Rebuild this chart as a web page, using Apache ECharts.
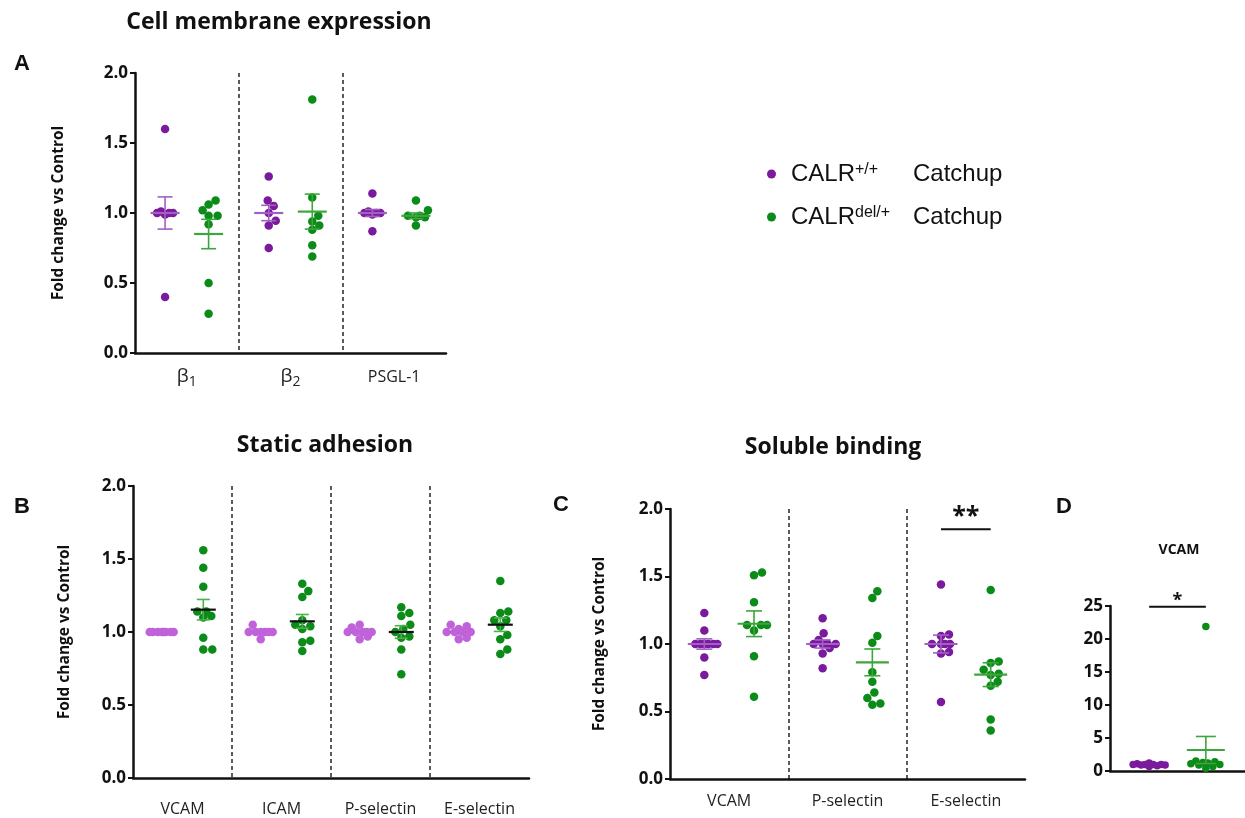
<!DOCTYPE html>
<html><head><meta charset="utf-8">
<script src="https://cdn.jsdelivr.net/npm/echarts@6/dist/echarts.min.js"></script>
<style>html,body{margin:0;padding:0;background:#fff}#c{width:1245px;height:818px}</style>
</head><body><div id="c"></div>
<script>
// ================= DATA =================
const NAME_WT = 'CALR+/+ Catchup';
const NAME_DEL = 'CALRdel/+ Catchup';

// Panel A – Cell membrane expression
const catsA = ['β₁', 'β₂', 'PSGL-1'];
const A_wt = [
  [1.60, 1.01, 1.00, 1.00, 0.99, 1.00, 0.40],
  [1.26, 1.09, 1.05, 1.00, 0.945, 0.91, 0.75],
  [1.14, 1.01, 1.00, 1.00, 0.99, 1.00, 0.87]
];
const A_del = [
  [1.09, 1.02, 1.06, 0.98, 0.98, 0.92, 0.50, 0.28],
  [1.81, 1.11, 0.98, 0.94, 0.91, 0.88, 0.77, 0.69],
  [1.09, 1.02, 0.98, 0.97, 0.98, 0.97, 0.91]
];
const A_wtMean = [1.00, 1.00, 1.00];
const A_wtSem = [0.115, 0.055, 0.025];
const A_delMean = [0.85, 1.01, 0.98];
const A_delSem = [0.105, 0.125, 0.02];

// Panel B – Static adhesion
const catsB = ['VCAM', 'ICAM', 'P-selectin', 'E-selectin'];
const B_wt = [
  [1.00, 1.00, 1.00, 1.00, 1.00, 1.00, 1.00, 1.00],
  [1.05, 1.00, 1.00, 1.00, 1.00, 1.00, 1.00, 0.95],
  [1.05, 1.03, 1.00, 1.00, 1.00, 1.00, 1.00, 0.97, 0.95],
  [1.05, 1.04, 1.02, 1.00, 1.00, 1.00, 1.00, 0.96, 0.95]
];
const B_del = [
  [1.56, 1.44, 1.31, 1.14, 1.14, 1.11, 1.10, 0.96, 0.88, 0.88],
  [1.33, 1.28, 1.24, 1.08, 1.05, 1.04, 1.02, 0.94, 0.93, 0.87],
  [1.17, 1.13, 1.11, 1.05, 1.02, 1.00, 0.97, 0.96, 0.88, 0.71],
  [1.35, 1.14, 1.13, 1.08, 1.08, 1.04, 0.98, 0.95, 0.88, 0.85]
];
const B_wtMean = [1.00, 1.00, 1.00, 1.00];
const B_wtSem = [0.00, 0.01, 0.01, 0.01];
const B_delMean = [1.153, 1.073, 1.00, 1.05];
const B_delSem = [0.07, 0.047, 0.043, 0.046];

// Panel C – Soluble binding
const catsC = ['VCAM', 'P-selectin', 'E-selectin'];
const C_wt = [
  [1.23, 1.10, 1.00, 1.00, 1.00, 1.00, 1.00, 1.00, 0.90, 0.77],
  [1.19, 1.08, 1.03, 1.00, 1.00, 1.00, 1.00, 0.97, 0.93, 0.82],
  [1.44, 1.07, 1.06, 1.00, 1.00, 1.00, 1.00, 0.94, 0.93, 0.57]
];
const C_del = [
  [1.53, 1.51, 1.31, 1.14, 1.14, 1.14, 1.10, 0.91, 0.61],
  [1.39, 1.34, 1.06, 1.01, 0.79, 0.72, 0.64, 0.60, 0.55, 0.56],
  [1.40, 0.87, 0.86, 0.81, 0.78, 0.77, 0.72, 0.69, 0.44, 0.36]
];
const C_wtMean = [1.00, 1.00, 1.00];
const C_wtSem = [0.038, 0.03, 0.066];
const C_delMean = [1.15, 0.864, 0.773];
const C_delSem = [0.095, 0.099, 0.088];
const C_sig = [{cat: 2, y: 1.85, text: '**'}];

// Panel D – VCAM
const catsD = [''];
const D_wt = [[1.1, 1.0, 0.9, 1.2, 0.8, 1.0, 0.7, 0.9, 1.0, 1.0]];
const D_del = [[21.9, 1.5, 1.3, 1.0, 1.2, 0.9, 1.1, 0.7, 0.4, 1.4]];
const D_wtMean = [0.95];
const D_wtSem = [0.05];
const D_delMean = [3.18];
const D_delSem = [2.05];
const D_sig = [{cat: 0, y: 24.9, text: '*'}];

// ================= STYLE / LAYOUT =================
const PURPLE = '#7A1A9C', GREEN = '#0B8B17', LPURPLE = '#C062DA';
const BAR_PURPLE = '#A35EC4', BAR_GREEN = '#3DA53D', BLACK = '#111';
const FONT = 'Open Sans';
const SUBS = {'₁': '1', '₂': '2'};

const panels = [
  {grid: {left: 135, top: 73, width: 311, height: 280}, cats: catsA, ymax: 2, interval: 0.5, dec: 1,
   wt: A_wt, del: A_del, wtMean: A_wtMean, wtSem: A_wtSem, delMean: A_delMean, delSem: A_delSem,
   wtColor: PURPLE, wtMeanColor: BAR_PURPLE, wtSemColor: BAR_PURPLE, wtUnder: false,
   delMeanColor: BAR_GREEN, delSemColor: BAR_GREEN,
   meanHalf: 14.5, capHalf: 7.5, labelMargin: 12, nameGap: 68, showName: true, sig: [], size: 8.5, maxHalf: 12},
  {grid: {left: 133, top: 486, width: 396, height: 292}, cats: catsB, ymax: 2, interval: 0.5, dec: 1,
   wt: B_wt, del: B_del, wtMean: B_wtMean, wtSem: B_wtSem, delMean: B_delMean, delSem: B_delSem,
   wtColor: LPURPLE, wtMeanColor: BLACK, wtSemColor: BLACK, wtUnder: true,
   delMeanColor: BLACK, delSemColor: '#4CB04C',
   meanHalf: 12.5, capHalf: 6.5, labelMargin: 19, nameGap: 60, showName: true, sig: [], size: 8.5, maxHalf: 12},
  {grid: {left: 670, top: 509, width: 355, height: 270}, cats: catsC, ymax: 2, interval: 0.5, dec: 1,
   wt: C_wt, del: C_del, wtMean: C_wtMean, wtSem: C_wtSem, delMean: C_delMean, delSem: C_delSem,
   wtColor: PURPLE, wtMeanColor: BAR_PURPLE, wtSemColor: BAR_PURPLE, wtUnder: false,
   delMeanColor: BAR_GREEN, delSemColor: BAR_GREEN,
   meanHalf: 16.5, capHalf: 8, labelMargin: 10, nameGap: 62, showName: true, sig: C_sig, sigFont: 25, sigOff: 12, size: 8.5, maxHalf: 13},
  {grid: {left: 1110, top: 606, width: 135, height: 165}, cats: catsD, ymax: 25, interval: 5, dec: 0,
   wt: D_wt, del: D_del, wtMean: D_wtMean, wtSem: D_wtSem, delMean: D_delMean, delSem: D_delSem,
   wtColor: PURPLE, wtMeanColor: BAR_PURPLE, wtSemColor: BAR_PURPLE, wtUnder: true,
   delMeanColor: BAR_GREEN, delSemColor: BAR_GREEN,
   meanHalf: 19, capHalf: 10, labelMargin: 10, nameGap: 50, showName: false, sig: D_sig, sigFont: 18, sigOff: 6, size: 7.5, maxHalf: 17}
];
const GROUP_OFF = 0.21;

// simple beeswarm layout (pixel space) -> data x positions
function swarm(values, center, pxX, pxY, diam, maxHalf) {
  const order = values.map((v, i) => i).sort((a, b) => values[a] - values[b]);
  const placed = [];
  const out = new Array(values.length);
  const cands = [0];
  for (let k = 1; k <= maxHalf; k++) cands.push(k, -k);
  for (const i of order) {
    const py = values[i] * pxY;
    let found = null, best = 0, bestScore = -1;
    for (const c of cands) {
      let minD = Infinity;
      for (const p of placed) {
        const d = Math.hypot(p.px - c, p.py - py);
        if (d < minD) minD = d;
      }
      if (minD >= diam) { found = c; break; }
      if (minD > bestScore + 0.01) { bestScore = minD; best = c; }
    }
    const px = found !== null ? found : best;
    placed.push({px, py});
    out[i] = [center + px / pxX, values[i]];
  }
  return out;
}

function errRender(meanHalf, capHalf, meanColor, semColor) {
  return function (params, api) {
    const x = api.value(0), m = api.value(1), s = api.value(2);
    const c = api.coord([x, m]);
    const t = api.coord([x, m + s]);
    const b = api.coord([x, m - s]);
    const ch = [];
    if (s > 0) {
      ch.push({type: 'line', shape: {x1: c[0], y1: t[1], x2: c[0], y2: b[1]}, style: {stroke: semColor, lineWidth: 1.6}});
      ch.push({type: 'line', shape: {x1: c[0] - capHalf, y1: t[1], x2: c[0] + capHalf, y2: t[1]}, style: {stroke: semColor, lineWidth: 1.6}});
      ch.push({type: 'line', shape: {x1: c[0] - capHalf, y1: b[1], x2: c[0] + capHalf, y2: b[1]}, style: {stroke: semColor, lineWidth: 1.6}});
    }
    ch.push({type: 'line', shape: {x1: c[0] - meanHalf, y1: c[1], x2: c[0] + meanHalf, y2: c[1]}, style: {stroke: meanColor, lineWidth: 2.2}});
    return {type: 'group', children: ch};
  };
}

function sigRender(font, off) {
  return function (params, api) {
    const p1 = api.coord([api.value(0), api.value(2)]);
    const p2 = api.coord([api.value(1), api.value(2)]);
    const stars = api.value(3) === 2 ? '**' : '*';
    return {type: 'group', children: [
      {type: 'line', shape: {x1: p1[0], y1: p1[1], x2: p2[0], y2: p2[1]}, style: {stroke: BLACK, lineWidth: 2}},
      {type: 'text', x: (p1[0] + p2[0]) / 2, y: p1[1] - off,
       style: {text: stars, font: 'bold ' + font + 'px "' + FONT + '"', fill: BLACK, align: 'center', verticalAlign: 'middle'}}
    ]};
  };
}

// category label: render trailing subscript digit as a real subscript
function catFormatter(v) {
  const last = v.slice(-1);
  if (SUBS[last]) return '{b|' + v.slice(0, -1) + '}{s|' + SUBS[last] + '}';
  return '{n|' + v + '}';
}

const grid = [], xAxis = [], yAxis = [], series = [];
panels.forEach((P, pi) => {
  grid.push(Object.assign({containLabel: false, outerBoundsMode: 'none'}, P.grid));
  const n = P.cats.length;
  xAxis.push({type: 'category', gridIndex: pi, data: P.cats, boundaryGap: true, position: 'bottom',
    axisLine: {show: true, lineStyle: {color: BLACK, width: 2.5}}, axisTick: {show: false},
    axisLabel: {show: true, interval: 0, hideOverlap: false, fontFamily: FONT, fontSize: 16, color: '#222', margin: P.labelMargin,
      formatter: catFormatter,
      rich: {
        n: {fontFamily: FONT, fontSize: 16, color: '#222', lineHeight: 24},
        b: {fontFamily: FONT, fontSize: 19, color: '#222', lineHeight: 24},
        s: {fontFamily: FONT, fontSize: 14, color: '#222', lineHeight: 14, verticalAlign: 'bottom'}
      }},
    splitLine: {show: false}});
  const valIdx = xAxis.length;
  xAxis.push({type: 'value', gridIndex: pi, min: 0, max: n, interval: 1, position: 'bottom',
    axisLine: {show: false}, axisTick: {show: false}, axisLabel: {show: false},
    splitLine: {show: true, showMinLine: false, showMaxLine: false, lineStyle: {type: [4, 3], color: '#333', width: 1.6}}});
  yAxis.push({type: 'value', gridIndex: pi, min: 0, max: P.ymax, interval: P.interval,
    axisLine: {show: true, lineStyle: {color: BLACK, width: 2.5}},
    axisTick: {show: true, length: 5, lineStyle: {color: BLACK, width: 2}},
    axisLabel: {fontFamily: FONT, fontWeight: 'bold', fontSize: 17, color: BLACK, margin: 7,
      formatter: v => v.toFixed(P.dec)},
    splitLine: {show: false},
    name: P.showName ? 'Fold change vs Control' : '', nameLocation: 'middle', nameGap: P.nameGap,
    nameTextStyle: {fontFamily: FONT, fontWeight: 'bold', fontSize: 15.5, color: BLACK}});
  const pxX = P.grid.width / n, pxY = P.grid.height / P.ymax;
  const wtPts = [], delPts = [];
  for (let i = 0; i < n; i++) {
    wtPts.push(...swarm(P.wt[i], i + 0.5 - GROUP_OFF, pxX, pxY, P.size * 0.95, P.maxHalf));
    delPts.push(...swarm(P.del[i], i + 0.5 + GROUP_OFF, pxX, pxY, P.size * 0.95, P.maxHalf));
  }
  series.push({type: 'scatter', name: NAME_WT, xAxisIndex: valIdx, yAxisIndex: pi, data: wtPts,
    symbolSize: P.size, itemStyle: {color: P.wtColor, opacity: 1}, z: 3, silent: true});
  series.push({type: 'scatter', name: NAME_DEL, xAxisIndex: valIdx, yAxisIndex: pi, data: delPts,
    symbolSize: P.size, itemStyle: {color: GREEN, opacity: 1}, z: 3, silent: true});
  series.push({type: 'custom', xAxisIndex: valIdx, yAxisIndex: pi, clip: false, silent: true,
    z: P.wtUnder ? 2 : 4, encode: {x: 0, y: 1},
    data: P.wtMean.map((m, i) => [i + 0.5 - GROUP_OFF, m, P.wtSem[i]]),
    renderItem: errRender(P.meanHalf, P.capHalf, P.wtMeanColor, P.wtSemColor)});
  series.push({type: 'custom', xAxisIndex: valIdx, yAxisIndex: pi, clip: false, silent: true,
    z: 4, encode: {x: 0, y: 1},
    data: P.delMean.map((m, i) => [i + 0.5 + GROUP_OFF, m, P.delSem[i]]),
    renderItem: errRender(P.meanHalf, P.capHalf, P.delMeanColor, P.delSemColor)});
  if (P.sig.length) {
    series.push({type: 'custom', xAxisIndex: valIdx, yAxisIndex: pi, clip: false, silent: true, z: 5,
      encode: {x: [0, 1], y: 2},
      data: P.sig.map(s => [s.cat + 0.5 - GROUP_OFF, s.cat + 0.5 + GROUP_OFF, s.y, s.text.length]),
      renderItem: sigRender(P.sigFont, P.sigOff)});
  }
});

const titleFont = 'bold 23px "' + FONT + '"';
const letterFont = 'bold 22px "Liberation Sans"';
const texts = [
  {t: 'Cell membrane expression', x: 279, y: 22, f: titleFont},
  {t: 'Static adhesion', x: 325, y: 445, f: titleFont},
  {t: 'Soluble binding', x: 833, y: 447, f: titleFont},
  {t: 'VCAM', x: 1179, y: 550, f: 'bold 14px "' + FONT + '"'},
  {t: 'A', x: 22, y: 64, f: letterFont},
  {t: 'B', x: 22, y: 507, f: letterFont},
  {t: 'C', x: 561, y: 505, f: letterFont},
  {t: 'D', x: 1064, y: 507, f: letterFont}
];

const chart = echarts.init(document.getElementById('c'), null, {renderer: 'canvas'});
chart.setOption({
  animation: false,
  backgroundColor: '#fff',
  grid, xAxis, yAxis, series,
  legend: {
    orient: 'vertical', left: 762, top: 157, itemGap: 19, icon: 'circle', itemWidth: 9, itemHeight: 9,
    selectedMode: false,
    data: [{name: NAME_WT, itemStyle: {color: PURPLE}}, {name: NAME_DEL, itemStyle: {color: GREEN}}],
    formatter: name => name === NAME_WT ? '{sp| }{m|CALR}{s|+/+}{m|Catchup}' : '{sp| }{m|CALR}{s|del/+}{m|Catchup}',
    textStyle: {
      rich: {
        sp: {width: 10, fontSize: 24},
        m: {fontFamily: 'Liberation Sans', fontSize: 24, color: BLACK},
        s: {fontFamily: 'Liberation Sans', fontSize: 16, color: BLACK, verticalAlign: 'top', width: 58}
      }
    }
  },
  graphic: texts.map(o => ({type: 'text', x: o.x, y: o.y, silent: true,
    style: {text: o.t, font: o.f, fill: BLACK, align: 'center', verticalAlign: 'middle'}}))
});
</script>
</body></html>
